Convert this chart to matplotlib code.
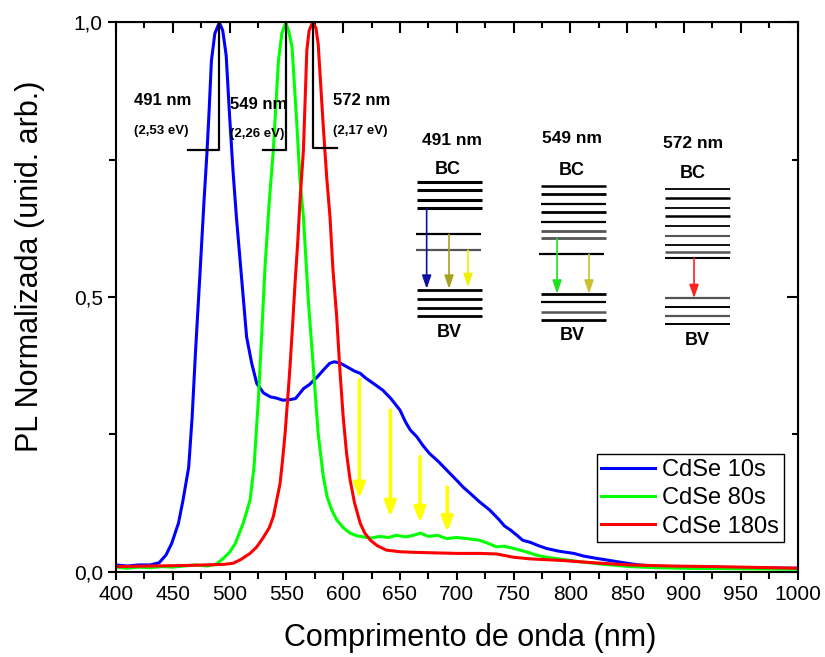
import numpy as np
import matplotlib
matplotlib.use('Agg')
import matplotlib.pyplot as plt
from matplotlib.ticker import MultipleLocator, FuncFormatter

plt.rcParams['font.family'] = ['Liberation Sans', 'DejaVu Sans']

# --- spectra ---
wl_10 = [400, 410, 420, 430, 438, 444, 449, 455, 459, 464, 467, 470, 474, 477.5, 480, 482, 484, 487,
         491, 494, 497, 500, 503, 506, 511, 515, 519.5, 524, 530, 536, 541, 547, 553, 558, 562, 565,
         570, 577, 583, 588, 592, 597, 604, 610, 615, 620, 627, 635, 642, 650, 655, 659, 665, 670,
         676, 684, 691, 700, 706, 712, 720, 729, 737, 742, 747, 753, 758, 765, 772, 779, 790, 803,
         812, 823, 835, 847, 860, 882, 900, 950, 1000]
pl_10 = [0.012, 0.010, 0.012, 0.012, 0.016, 0.030, 0.051, 0.088, 0.130, 0.19, 0.28, 0.40, 0.545, 0.675,
         0.76, 0.84, 0.93, 0.98, 1.0, 0.985, 0.94, 0.83, 0.73, 0.646, 0.524, 0.427, 0.379, 0.342, 0.325,
         0.318, 0.316, 0.312, 0.313, 0.315, 0.325, 0.333, 0.340, 0.354, 0.368, 0.379, 0.382, 0.380,
         0.372, 0.365, 0.361, 0.352, 0.342, 0.330, 0.315, 0.294, 0.272, 0.258, 0.245, 0.230, 0.215,
         0.200, 0.185, 0.166, 0.153, 0.142, 0.127, 0.112, 0.095, 0.083, 0.076, 0.066, 0.057, 0.053,
         0.047, 0.042, 0.037, 0.033, 0.028, 0.024, 0.020, 0.016, 0.012, 0.009, 0.008, 0.007, 0.006]

wl_80 = [400, 410, 420, 430, 440, 450, 460, 470, 480, 488, 494.5, 500, 505, 512, 518, 521.5, 525.3,
         528.3, 531.2, 535, 538.5, 543, 546, 549.4, 552, 555, 559, 562, 565, 569.3, 573.7, 578, 582.5,
         586, 590, 594.3, 600, 606, 612, 618, 625, 632, 640, 647, 655, 662, 668, 675, 683, 691, 700,
         709, 720, 728, 735, 742, 750, 761, 770, 779, 790, 808, 830, 852, 875, 897, 950, 1000]
pl_80 = [0.008, 0.006, 0.008, 0.007, 0.009, 0.008, 0.010, 0.012, 0.010, 0.013, 0.024, 0.035, 0.051,
         0.088, 0.13, 0.19, 0.312, 0.433, 0.555, 0.676, 0.767, 0.93, 0.98, 1.0, 0.985, 0.955, 0.822,
         0.712, 0.646, 0.494, 0.373, 0.251, 0.173, 0.135, 0.112, 0.094, 0.080, 0.070, 0.065, 0.063,
         0.061, 0.064, 0.062, 0.066, 0.063, 0.066, 0.070, 0.064, 0.066, 0.060, 0.062, 0.060, 0.057,
         0.051, 0.045, 0.046, 0.042, 0.036, 0.030, 0.026, 0.023, 0.018, 0.013, 0.009, 0.007, 0.006,
         0.005, 0.004]

wl_180 = [400, 430, 460, 480, 495, 503, 510, 518, 524, 530, 535, 538.5, 541, 544.4, 546.5, 548.8, 551,
          553.2, 555.5, 557.6, 560, 562, 565, 568, 570, 573, 576, 578, 582.5, 585.5, 588.4, 591,
          594.3, 597, 600, 603, 606, 610, 615, 619, 624, 630, 638, 650, 662, 680, 700, 720, 735, 750,
          765, 794, 820, 852, 890, 926, 1000]
pl_180 = [0.009, 0.010, 0.011, 0.012, 0.013, 0.015, 0.022, 0.033, 0.045, 0.063, 0.080, 0.10, 0.125,
          0.16, 0.20, 0.25, 0.31, 0.373, 0.45, 0.524, 0.60, 0.676, 0.767, 0.949, 0.985, 1.0, 0.99,
          0.961, 0.81, 0.718, 0.646, 0.55, 0.464, 0.37, 0.282, 0.215, 0.168, 0.125, 0.088, 0.07,
          0.057, 0.047, 0.039, 0.036, 0.035, 0.034, 0.033, 0.033, 0.032, 0.026, 0.023, 0.020, 0.016,
          0.012, 0.010, 0.009, 0.006]

labels = ['CdSe 10s', 'CdSe 80s', 'CdSe 180s']
colors = ['#0000ff', '#00ff00', '#ff0000']

peak_nm = [491, 549, 572]
peak_ev = ['(2,53 eV)', '(2,26 eV)', '(2,17 eV)']

fig = plt.figure(figsize=(8.25, 6.57), dpi=100)
ax = fig.add_axes([0.1406, 0.1301, 0.8261, 0.8357])

for wl, pl, lab, c in zip([wl_10, wl_80, wl_180], [pl_10, pl_80, pl_180], labels, colors):
    ax.plot(wl, pl, color=c, lw=2.2, label=lab)

ax.set_xlim(400, 1000)
ax.set_ylim(0, 1.0)
ax.xaxis.set_major_locator(MultipleLocator(50))
ax.xaxis.set_minor_locator(MultipleLocator(25))
ax.yaxis.set_major_locator(MultipleLocator(0.5))
ax.yaxis.set_minor_locator(MultipleLocator(0.25))
ax.yaxis.set_major_formatter(FuncFormatter(lambda v, p: f'{v:.1f}'.replace('.', ',')))
ax.tick_params(which='both', direction='out', top=False, right=False, labelsize=15, width=1.5)
ax.tick_params(which='major', length=6)
ax.tick_params(which='minor', length=5)
for s in ax.spines.values():
    s.set_linewidth(1.5)

# inward ticks on top/right
top = ax.secondary_xaxis('top')
top.xaxis.set_major_locator(MultipleLocator(50))
top.xaxis.set_minor_locator(MultipleLocator(25))
top.tick_params(which='both', direction='in', labeltop=False, width=1.5)
top.tick_params(which='major', length=8)
top.tick_params(which='minor', length=4)
rgt = ax.secondary_yaxis('right')
rgt.yaxis.set_major_locator(MultipleLocator(0.5))
rgt.yaxis.set_minor_locator(MultipleLocator(0.25))
rgt.tick_params(which='both', direction='in', labelright=False, width=1.5)
rgt.tick_params(which='major', length=8)
rgt.tick_params(which='minor', length=4)

ax.set_xlabel('Comprimento de onda (nm)', fontsize=22)
ax.set_ylabel('PL Normalizada (unid. arb.)', fontsize=22)
ax.xaxis.set_label_coords(0.52, -0.093)
ax.yaxis.set_label_coords(-0.104, 0.555)

# peak markers
ax.plot([463.6, 490.9, 490.9], [0.767, 0.767, 1.0], color='black', lw=1.6)
ax.plot([529.7, 549.6, 549.6], [0.767, 0.767, 1.0], color='black', lw=1.6)
ax.plot([573.7, 573.7, 594.3], [1.0, 0.772, 0.772], color='black', lw=1.6)
for x, (nm, ev) in zip([415.8, 500.4, 590.8], zip(peak_nm, peak_ev)):
    dy = -0.006 if nm == 549 else 0.0
    ax.text(x, 0.857 + dy, f'{nm} nm', fontsize=12, fontweight='bold', va='center', ha='left')
    ax.text(x, 0.802 + dy, ev, fontsize=9.5, fontweight='bold', va='center', ha='left')

# yellow arrows over the blue band
for x, y0, y1 in [(614.2, 0.349, 0.133), (641.5, 0.294, 0.100), (667.6, 0.209, 0.089), (691.6, 0.154, 0.072)]:
    ax.annotate('', xy=(x, y1), xytext=(x, y0),
                arrowprops=dict(arrowstyle='-|>,head_length=0.9,head_width=0.35', color='#ffff00', lw=2.5,
                                shrinkA=0, shrinkB=0))

# energy level schemes
def levels(x0, x1, ys, lws, cols):
    for y, lw, c in zip(ys, lws, cols):
        ax.plot([x0, x1], [y, y], color=c, lw=lw, solid_capstyle='butt')

def arrow(x, y0, y1, c):
    ax.annotate('', xy=(x, y1), xytext=(x, y0),
                arrowprops=dict(arrowstyle='-|>,head_length=0.8,head_width=0.28', color=c, lw=1.2,
                                shrinkA=0, shrinkB=0))

k = 'black'
g = '#555555'
levels(665.0, 722.2, [0.709, 0.694, 0.677, 0.662], [2.2] * 4, [k] * 4)
levels(664.0, 721.0, [0.614, 0.585], [1.6, 1.6], [k, g])
levels(665.0, 722.2, [0.512, 0.497, 0.480, 0.465], [2.0] * 4, [k] * 4)
arrow(673.5, 0.662, 0.515, '#1010a0')
arrow(693.2, 0.614, 0.515, '#a8a020')
arrow(709.9, 0.585, 0.518, '#f0f000')
ax.text(695.6, 0.785, '491 nm', fontsize=12.5, fontweight='bold', ha='center', va='center')
ax.text(692.3, 0.732, 'BC', fontsize=13, fontweight='bold', ha='center', va='center')
ax.text(693.2, 0.436, 'BV', fontsize=13, fontweight='bold', ha='center', va='center')

levels(774.2, 831.4, [0.702, 0.687, 0.670, 0.655, 0.637, 0.620, 0.607],
       [1.8, 2.0, 1.6, 2.0, 1.6, 2.0, 2.0], [k, k, k, k, k, g, g])
levels(772.4, 829.6, [0.578], [1.6], [k])
levels(774.2, 831.4, [0.506, 0.491, 0.473, 0.458], [2.0, 1.6, 1.8, 2.0], [k, k, g, k])
arrow(788.3, 0.607, 0.506, '#20e020')
arrow(816.4, 0.578, 0.506, '#c8c030')
ax.text(801.5, 0.789, '549 nm', fontsize=12.5, fontweight='bold', ha='center', va='center')
ax.text(801.2, 0.731, 'BC', fontsize=13, fontweight='bold', ha='center', va='center')
ax.text(801.5, 0.429, 'BV', fontsize=13, fontweight='bold', ha='center', va='center')

levels(883.4, 940.6, [0.696, 0.680, 0.663, 0.647, 0.630, 0.612, 0.595, 0.582, 0.571],
       [1.3, 1.8, 1.3, 1.8, 1.3, 1.5, 1.3, 1.8, 1.5], [k, k, k, k, k, g, k, g, k])
levels(883.4, 940.6, [0.498, 0.482, 0.466, 0.450], [1.6, 1.4, 1.6, 1.4], [g, k, g, k])
arrow(908.9, 0.571, 0.498, '#ff2020')
ax.text(908.0, 0.780, '572 nm', fontsize=12.5, fontweight='bold', ha='center', va='center')
ax.text(908.0, 0.725, 'BC', fontsize=13, fontweight='bold', ha='center', va='center')
ax.text(911.5, 0.421, 'BV', fontsize=13, fontweight='bold', ha='center', va='center')

leg = ax.legend(loc='lower left', bbox_to_anchor=(0.7054, 0.0531), borderaxespad=0, fontsize=17,
                frameon=True, fancybox=False, edgecolor='black', framealpha=1,
                handlelength=2.25, handletextpad=0.33, labelspacing=0.27, borderpad=0.2)
leg.get_frame().set_linewidth(1.0)

plt.savefig('out.png', dpi=100)
